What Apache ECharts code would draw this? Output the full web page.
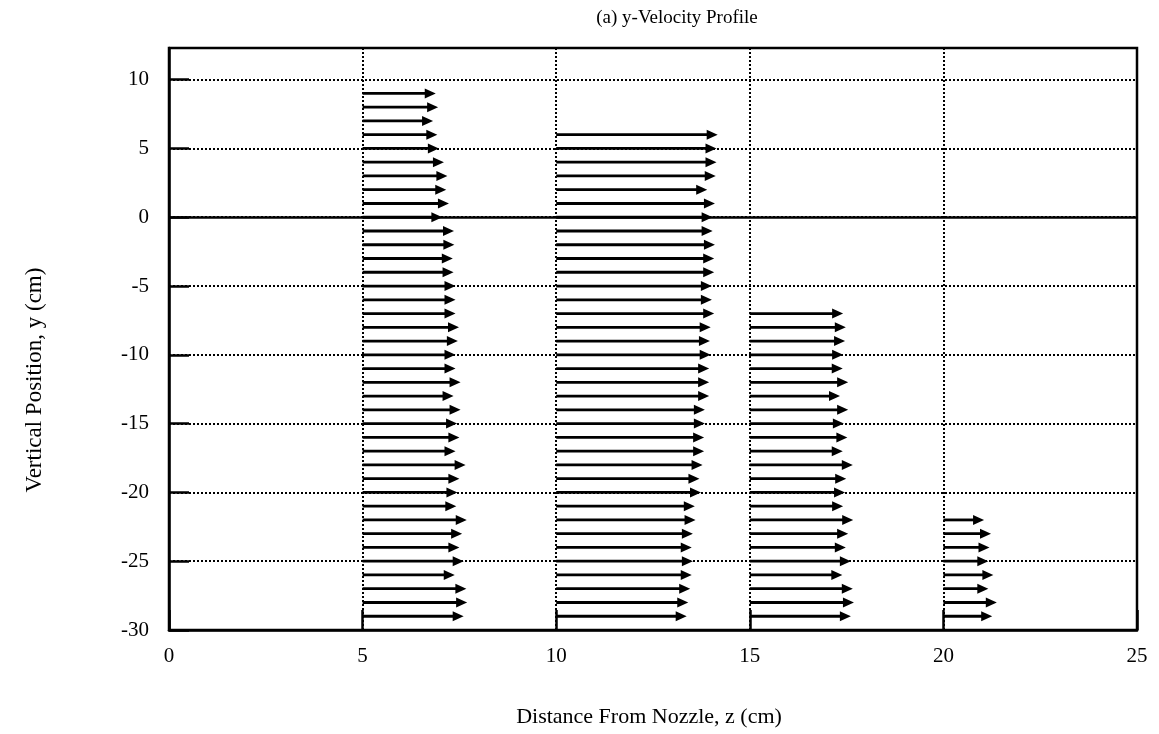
<!DOCTYPE html>
<html>
<head>
<meta charset="utf-8">
<title>(a) y-Velocity Profile</title>
<script src="https://cdn.jsdelivr.net/npm/echarts@6/dist/echarts.min.js"></script>
<style>
  html, body { margin: 0; padding: 0; background: #fff; }
  #chart { width: 1159px; height: 734px; }
</style>
</head>
<body>
<div id="chart"></div>
<script>
// Measuring stations along the jet (distance from nozzle, cm)
const stations = [5, 10, 15, 20];

// Vertical positions (cm) of the vectors at each station
const station5Y  = [9, 8, 7, 6, 5, 4, 3, 2, 1, 0, -1, -2, -3, -4, -5, -6, -7, -8, -9, -10,
                    -11, -12, -13, -14, -15, -16, -17, -18, -19, -20, -21, -22, -23, -24, -25,
                    -26, -27, -28, -29];
const station10Y = [6, 5, 4, 3, 2, 1, 0, -1, -2, -3, -4, -5, -6, -7, -8, -9, -10,
                    -11, -12, -13, -14, -15, -16, -17, -18, -19, -20, -21, -22, -23, -24, -25,
                    -26, -27, -28, -29];
const station15Y = [-7, -8, -9, -10, -11, -12, -13, -14, -15, -16, -17, -18, -19, -20,
                    -21, -22, -23, -24, -25, -26, -27, -28, -29];
const station20Y = [-22, -23, -24, -25, -26, -27, -28, -29];

// Vector lengths, drawn in z-axis units (cm)
const station5Len  = [1.89, 1.95, 1.82, 1.93, 1.97, 2.10, 2.19, 2.16, 2.23, 2.06,
                      2.36, 2.37, 2.33, 2.35, 2.40, 2.40, 2.40, 2.49, 2.46, 2.40,
                      2.40, 2.53, 2.35, 2.53, 2.44, 2.50, 2.40, 2.66, 2.50, 2.45,
                      2.42, 2.69, 2.57, 2.50, 2.61, 2.38, 2.68, 2.70, 2.61];
const station10Len = [4.17, 4.14, 4.14, 4.12, 3.90, 4.10, 4.04, 4.04, 4.10, 4.08,
                      4.08, 4.02, 4.02, 4.08, 3.99, 3.97, 3.99, 3.95, 3.95, 3.95,
                      3.84, 3.84, 3.82, 3.82, 3.78, 3.70, 3.74, 3.58, 3.60, 3.53,
                      3.50, 3.53, 3.50, 3.46, 3.41, 3.37];
const station15Len = [2.41, 2.48, 2.46, 2.41, 2.40, 2.54, 2.33, 2.54, 2.43, 2.52,
                      2.40, 2.66, 2.49, 2.46, 2.41, 2.67, 2.54, 2.48, 2.61, 2.39,
                      2.66, 2.69, 2.61];
const station20Len = [1.05, 1.23, 1.19, 1.16, 1.29, 1.16, 1.38, 1.26];

// Axis ticks
const xTicks = [0, 5, 10, 15, 20, 25];
const yTicks = [-30, -25, -20, -15, -10, -5, 0, 5, 10];

const titleText = '(a) y-Velocity Profile';
const xName = 'Distance From Nozzle, z (cm)';
const yName = 'Vertical Position, y (cm)';

// Build [z, y, length] triples for the vector series
const columns = [
  [stations[0], station5Y, station5Len],
  [stations[1], station10Y, station10Len],
  [stations[2], station15Y, station15Len],
  [stations[3], station20Y, station20Len]
];
const vectors = [];
columns.forEach(([z, ys, lens]) => {
  ys.forEach((y, i) => vectors.push([z, y, lens[i]]));
});

const FONT = "'Liberation Serif', 'Times New Roman', serif";
const INK = '#000';

// Each vector: a shaft from the station line plus a filled head ending at z + length
function renderArrow(params, api) {
  const z = api.value(0), y = api.value(1), len = api.value(2);
  const start = api.coord([z, y]);
  const tip = api.coord([z + len, y]);
  const headLen = 11, headHalf = 5;
  return {
    type: 'group',
    children: [
      {
        type: 'line',
        shape: { x1: start[0], y1: start[1], x2: tip[0] - headLen + 1, y2: tip[1] },
        style: { stroke: INK, lineWidth: 2.8 }
      },
      {
        type: 'polygon',
        shape: { points: [[tip[0], tip[1]], [tip[0] - headLen, tip[1] - headHalf], [tip[0] - headLen, tip[1] + headHalf]] },
        style: { fill: INK }
      }
    ]
  };
}

const chart = echarts.init(document.getElementById('chart'), null, { renderer: 'canvas' });

chart.setOption({
  backgroundColor: '#fff',
  animation: false,
  grid: {
    left: 169, right: 22, top: 48, bottom: 104,
    show: true, borderColor: INK, borderWidth: 2.5, backgroundColor: 'transparent'
  },
  xAxis: {
    type: 'value',
    min: xTicks[0], max: xTicks[xTicks.length - 1], interval: 5,
    axisLine: { show: true, onZero: false, lineStyle: { color: INK, width: 2.5 } },
    axisTick: { show: true, inside: true, length: 20, lineStyle: { color: INK, width: 2.5 } },
    axisLabel: {
      margin: 16, color: INK, fontFamily: FONT, fontSize: 21,
      formatter: v => (xTicks.includes(v) ? String(v) : '')
    },
    splitLine: { show: true, lineStyle: { color: INK, width: 2, type: [2, 2] } }
  },
  yAxis: {
    type: 'value',
    min: yTicks[0], max: 12.3, interval: 5,
    axisLine: { show: true, onZero: false, lineStyle: { color: INK, width: 2.5 } },
    axisTick: { show: true, inside: true, length: 20, lineStyle: { color: INK, width: 2.5 } },
    axisLabel: {
      margin: 20, color: INK, fontFamily: FONT, fontSize: 21, showMaxLabel: false,
      formatter: v => (yTicks.includes(v) ? String(v) : '')
    },
    splitLine: { show: true, lineStyle: { color: INK, width: 2, type: [2, 2] } }
  },
  graphic: [
    {
      type: 'text', x: 677, y: 18,
      style: { text: titleText, fill: INK, font: '19px ' + FONT, textAlign: 'center', textVerticalAlign: 'middle' }
    },
    {
      type: 'text', x: 649, y: 717,
      style: { text: xName, fill: INK, font: '22px ' + FONT, textAlign: 'center', textVerticalAlign: 'middle' }
    },
    {
      type: 'text', x: 35, y: 380, rotation: Math.PI / 2,
      style: { text: yName, fill: INK, font: '23px ' + FONT, textAlign: 'center', textVerticalAlign: 'middle' }
    }
  ],
  series: [
    {
      // solid y = 0 reference line
      type: 'line',
      data: [],
      silent: true,
      markLine: {
        silent: true,
        symbol: ['none', 'none'],
        label: { show: false },
        lineStyle: { color: INK, width: 2.5, type: 'solid' },
        data: [{ yAxis: 0 }]
      }
    },
    {
      type: 'custom',
      renderItem: renderArrow,
      data: vectors,
      encode: { x: 0, y: 1 },
      silent: true,
      z: 5
    }
  ]
});
</script>
</body>
</html>
